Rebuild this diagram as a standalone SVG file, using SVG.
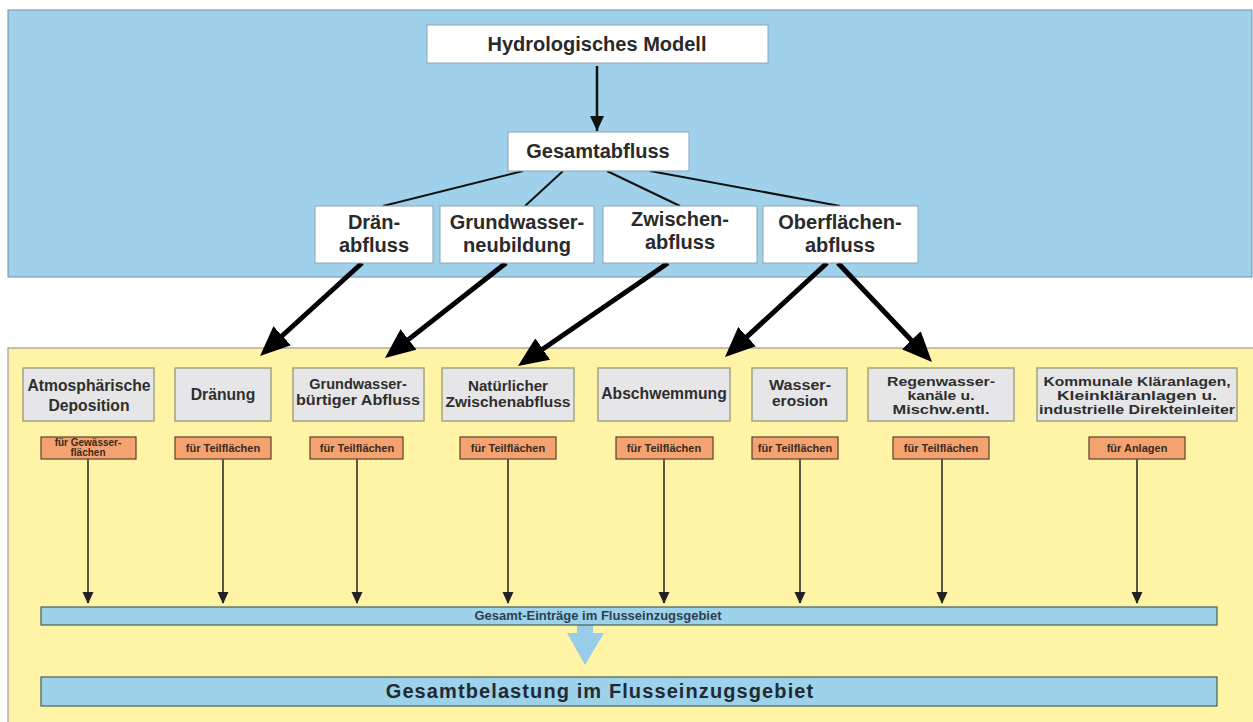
<svg xmlns="http://www.w3.org/2000/svg" width="1253" height="722" viewBox="0 0 1253 722">
<defs>
<style>
text{font-family:"Liberation Sans",Arial,sans-serif;font-weight:bold;text-anchor:middle}
.white{fill:#ffffff;stroke:#8aa4b8;stroke-width:1}
.t1{font-size:20px;fill:#2a2a2a}
.gray{fill:#e6e6e8;stroke:#a3a283;stroke-width:1.5}
.t2{font-size:15.7px;fill:#2e2e2e}
.t2s{font-size:14.5px;fill:#2e2e2e}
.t2x{font-size:13px;fill:#2e2e2e}
.org{fill:#f4a26f;stroke:#6b4a33;stroke-width:1.3}
.t3{font-size:11px;fill:#3a2a20}
.bar{fill:#9dd2eb;stroke:#4f6a60;stroke-width:1.3}
.thin{stroke:#222;stroke-width:1.5;fill:none}
.thick{stroke:#000;stroke-width:5;fill:none}
.med{stroke:#111;stroke-width:2.5;fill:none}
</style>
<marker id="big" markerUnits="userSpaceOnUse" markerWidth="32" markerHeight="28" refX="10" refY="13" orient="auto">
<path d="M0,0 L30,13 L0,26 z" fill="#000"/>
</marker>
<marker id="mid" markerUnits="userSpaceOnUse" markerWidth="16" markerHeight="16" refX="15" refY="7" orient="auto">
<path d="M0,0 L15,7 L0,14 z" fill="#111"/>
</marker>
<marker id="small" markerUnits="userSpaceOnUse" markerWidth="13" markerHeight="13" refX="11" refY="5.5" orient="auto">
<path d="M0,0 L12,5.5 L0,11 z" fill="#222"/>
</marker>
</defs>

<g id="panels">
<rect x="8" y="10" width="1244" height="267" fill="#9fd2ea" stroke="#6f8ea6" stroke-width="1"/>
<rect x="8" y="348" width="1246" height="380" fill="#fff3a5" stroke="#9a9a9a" stroke-width="1.2"/>
</g>

<g id="connectors">
<line class="med" x1="597" y1="66" x2="597" y2="131" marker-end="url(#mid)"/>
<line x1="523" y1="171" x2="383" y2="206" stroke="#111" stroke-width="2"/>
<line x1="563" y1="171" x2="525" y2="206" stroke="#111" stroke-width="2"/>
<line x1="607" y1="171" x2="680" y2="206" stroke="#111" stroke-width="2"/>
<line x1="650" y1="171" x2="840" y2="206" stroke="#111" stroke-width="2"/>
<line class="thick" x1="362" y1="263" x2="274.8" y2="342.5" marker-end="url(#big)"/>
<line class="thick" x1="506" y1="263" x2="400.7" y2="345.6" marker-end="url(#big)"/>
<line class="thick" x1="668" y1="263" x2="534.5" y2="354.7" marker-end="url(#big)"/>
<line class="thick" x1="827" y1="263" x2="739.7" y2="343.4" marker-end="url(#big)"/>
<line class="thick" x1="838" y1="263" x2="918.2" y2="347.5" marker-end="url(#big)"/>
<line class="thin" x1="88" y1="459" x2="88" y2="603" marker-end="url(#small)"/>
<line class="thin" x1="223" y1="459" x2="223" y2="603" marker-end="url(#small)"/>
<line class="thin" x1="357" y1="459" x2="357" y2="603" marker-end="url(#small)"/>
<line class="thin" x1="508" y1="459" x2="508" y2="603" marker-end="url(#small)"/>
<line class="thin" x1="664" y1="459" x2="664" y2="603" marker-end="url(#small)"/>
<line class="thin" x1="800" y1="459" x2="800" y2="603" marker-end="url(#small)"/>
<line class="thin" x1="942" y1="459" x2="942" y2="603" marker-end="url(#small)"/>
<line class="thin" x1="1137" y1="459" x2="1137" y2="603" marker-end="url(#small)"/>
<polygon points="577,625 593,625 593,633 604,633 585,665 567,633 577,633" fill="#98cdea"/>
</g>

<g id="n-hydro"><rect class="white" x="427" y="25" width="341" height="38"/><text class="t1" x="597" y="51">Hydrologisches Modell</text></g>
<g id="n-gesamt"><rect class="white" x="508" y="132" width="181" height="39"/><text class="t1" x="598" y="158">Gesamtabfluss</text></g>

<g id="n-draen"><rect class="white" x="315" y="206" width="118" height="57"/><text class="t1" x="374" y="229">Drän-</text><text class="t1" x="374" y="252">abfluss</text></g>
<g id="n-gwn"><rect class="white" x="440" y="206" width="154" height="57"/><text class="t1" x="517" y="229">Grundwasser-</text><text class="t1" x="517" y="252">neubildung</text></g>
<g id="n-zw"><rect class="white" x="603" y="206" width="154" height="57"/><text class="t1" x="680" y="226">Zwischen-</text><text class="t1" x="680" y="249">abfluss</text></g>
<g id="n-ob"><rect class="white" x="763" y="206" width="155" height="57"/><text class="t1" x="840" y="229">Oberflächen-</text><text class="t1" x="840" y="252">abfluss</text></g>

<g id="n-atm"><rect class="gray" x="23" y="368" width="131" height="53"/><text class="t2" x="89" y="391">Atmosphärische</text><text class="t2" x="89" y="411">Deposition</text></g>
<g id="n-drg"><rect class="gray" x="175" y="368" width="96" height="53"/><text class="t2" x="223" y="400">Dränung</text></g>
<g id="n-gwb"><rect class="gray" x="293" y="368" width="131" height="53"/><text class="t2s" x="358" y="389">Grundwasser-</text><text class="t2s" x="358" y="405" textLength="124" lengthAdjust="spacingAndGlyphs">bürtiger Abfluss</text></g>
<g id="n-nat"><rect class="gray" x="442" y="368" width="132" height="53"/><text class="t2s" x="508" y="391" textLength="80" lengthAdjust="spacingAndGlyphs">Natürlicher</text><text class="t2s" x="508" y="407" textLength="125" lengthAdjust="spacingAndGlyphs">Zwischenabfluss</text></g>
<g id="n-absch"><rect class="gray" x="598" y="368" width="132" height="53"/><text class="t2" x="664" y="399">Abschwemmung</text></g>
<g id="n-wass"><rect class="gray" x="752" y="368" width="95" height="53"/><text class="t2s" x="800" y="390" textLength="62" lengthAdjust="spacingAndGlyphs">Wasser-</text><text class="t2s" x="800" y="406" textLength="56" lengthAdjust="spacingAndGlyphs">erosion</text></g>
<g id="n-regen"><rect class="gray" x="868" y="368" width="146" height="53"/><text class="t2x" x="941" y="386" textLength="108" lengthAdjust="spacingAndGlyphs">Regenwasser-</text><text class="t2x" x="941" y="400" textLength="67" lengthAdjust="spacingAndGlyphs">kanäle u.</text><text class="t2x" x="941" y="414" textLength="97" lengthAdjust="spacingAndGlyphs">Mischw.entl.</text></g>
<g id="n-komm"><rect class="gray" x="1037" y="368" width="200" height="53"/><text class="t2x" x="1137" y="386" textLength="187" lengthAdjust="spacingAndGlyphs">Kommunale Kläranlagen,</text><text class="t2x" x="1137" y="400" textLength="160" lengthAdjust="spacingAndGlyphs">Kleinkläranlagen  u.</text><text class="t2x" x="1137" y="414" textLength="196" lengthAdjust="spacingAndGlyphs">industrielle Direkteinleiter</text></g>

<g id="o-atm"><rect class="org" x="41" y="437" width="95" height="22"/><text class="t3" x="88" y="446" style="font-size:10px">für Gewässer-</text><text class="t3" x="88" y="456" style="font-size:10px">flächen</text></g>
<g id="o-drg"><rect class="org" x="175" y="437" width="96" height="22"/><text class="t3" x="223" y="452">für Teilflächen</text></g>
<g id="o-gwb"><rect class="org" x="310" y="437" width="93" height="22"/><text class="t3" x="357" y="452">für Teilflächen</text></g>
<g id="o-nat"><rect class="org" x="460" y="437" width="96" height="22"/><text class="t3" x="508" y="452">für Teilflächen</text></g>
<g id="o-absch"><rect class="org" x="616" y="437" width="97" height="22"/><text class="t3" x="664" y="452">für Teilflächen</text></g>
<g id="o-wass"><rect class="org" x="752" y="437" width="86" height="22"/><text class="t3" x="795" y="452">für Teilflächen</text></g>
<g id="o-regen"><rect class="org" x="893" y="437" width="96" height="22"/><text class="t3" x="941" y="452">für Teilflächen</text></g>
<g id="o-komm"><rect class="org" x="1089" y="437" width="96" height="22"/><text class="t3" x="1137" y="452">für Anlagen</text></g>

<g id="n-eintraege"><rect class="bar" x="41" y="607" width="1176" height="18"/><text x="598" y="620" style="font-size:13px;fill:#2f3f4f">Gesamt-Einträge im Flusseinzugsgebiet</text></g>
<g id="n-belastung"><rect class="bar" x="41" y="677" width="1176" height="29"/><text x="600" y="698" style="font-size:20px;fill:#1f2a35;letter-spacing:1.1px">Gesamtbelastung im Flusseinzugsgebiet</text></g>
</svg>
